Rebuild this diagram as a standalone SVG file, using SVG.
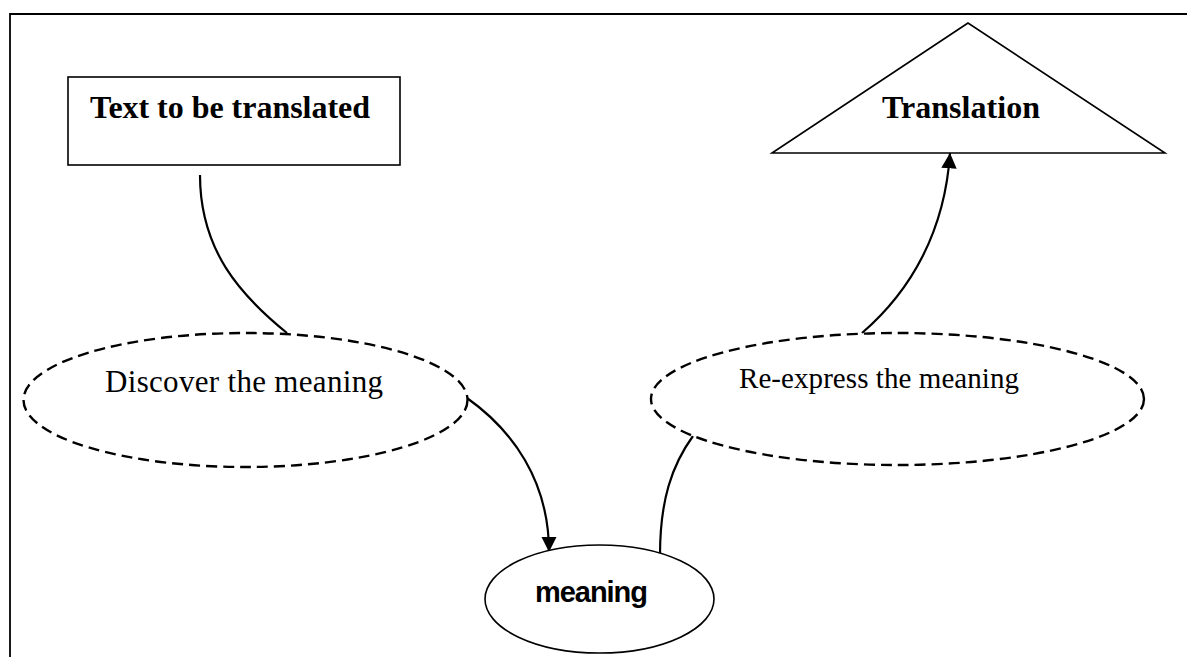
<svg xmlns="http://www.w3.org/2000/svg" width="1187" height="657" viewBox="0 0 1187 657">
  <style>
    .shape { fill: #ffffff; stroke: #000000; stroke-width: 1.6; }
    .dashed { fill: #ffffff; stroke: #000000; stroke-width: 2.4; stroke-dasharray: 11 6; }
    .conn { fill: none; stroke: #000000; stroke-width: 2.2; }
    .serifb { font-family: "Liberation Serif", "Times New Roman", serif; font-weight: bold; font-size: 32px; fill: #000; }
    .serif { font-family: "Liberation Serif", "Times New Roman", serif; font-size: 31px; fill: #000; }
    .sansb { font-family: "Liberation Sans", Arial, sans-serif; font-weight: bold; font-size: 29px; fill: #000; }
  </style>
  <defs>
    <marker id="arrow" viewBox="0 0 10 10" refX="10" refY="5" markerWidth="7" markerHeight="7" markerUnits="strokeWidth" orient="auto">
      <path d="M0,0 L10,5 L0,10 Z" fill="#000"/>
    </marker>
  </defs>
  <rect x="0" y="0" width="1187" height="657" fill="#ffffff"/>
  <g id="frame">
    <path d="M10,657 L10,14 L1187,14" fill="none" stroke="#000" stroke-width="1.8"/>
  </g>
  <g id="connectors">
    <path class="conn" d="M200,175 C200,250 240,295 287,333"/>
    <path class="conn" d="M467,398 C512,430 549,480 549,552" marker-end="url(#arrow)"/>
    <path class="conn" d="M660,555 C660,500 672,465 693,436"/>
    <path class="conn" d="M862,333 C912,290 945,230 950,153" marker-end="url(#arrow)"/>
  </g>
  <g id="node-source">
    <rect class="shape" x="68" y="77" width="332" height="88"/>
    <text class="serifb" x="90" y="118" textLength="280">Text to be translated</text>
  </g>
  <g id="node-translation">
    <polygon class="shape" points="968,23 772,153 1165,153"/>
    <text class="serifb" x="882" y="118" textLength="158">Translation</text>
  </g>
  <g id="node-discover">
    <ellipse class="dashed" cx="245.5" cy="400" rx="222" ry="67"/>
    <text class="serif" x="105" y="392" textLength="278">Discover the meaning</text>
  </g>
  <g id="node-reexpress">
    <ellipse class="dashed" cx="897.5" cy="399" rx="246.5" ry="66"/>
    <text class="serif" x="739" y="388" style="font-size:29px" textLength="280">Re-express the meaning</text>
  </g>
  <g id="node-meaning">
    <ellipse class="shape" cx="599.5" cy="599" rx="114.5" ry="54"/>
    <text class="sansb" x="535" y="602" textLength="113">meaning</text>
  </g>
</svg>
